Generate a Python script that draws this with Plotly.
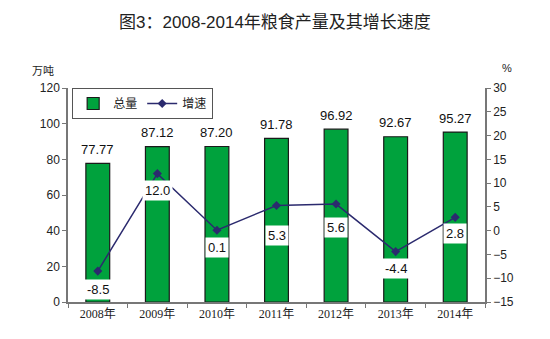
import plotly.graph_objects as go

years = ["2008年", "2009年", "2010年", "2011年", "2012年", "2013年", "2014年"]
output = [77.77, 87.12, 87.20, 91.78, 96.92, 92.67, 95.27]
growth = [-8.5, 12.0, 0.1, 5.3, 5.6, -4.4, 2.8]
label_shift = [-18, -17, -17, -30, -23, -17, -16]

fig = go.Figure()
fig.add_trace(go.Bar(
    x=years, y=output, name="总量", width=0.4,
    marker=dict(color="#00A23D", line=dict(color="#1a1a1a", width=1.2)),
))
fig.add_trace(go.Scatter(
    x=years, y=growth, name="增速", yaxis="y2", mode="lines+markers",
    line=dict(color="#2B2A6E", width=1.5),
    marker=dict(symbol="diamond", size=7, color="#2B2A6E"),
))

for x, v in zip(years, output):
    fig.add_annotation(
        x=x, y=v, xref="x", yref="y", text=f"{v:.2f}", showarrow=False,
        yshift=14, font=dict(size=13, color="#111", family="Arial, Liberation Sans"),
    )

for x, g, s in zip(years, growth, label_shift):
    fig.add_annotation(
        x=x, y=g, yref="y2", xref="x", text=f"{g:.1f}", showarrow=False,
        yshift=s, bgcolor="white", borderpad=2,
        font=dict(size=13, color="#111", family="Arial, Liberation Sans"),
    )

fig.add_annotation(text="万吨", x=-0.09, y=1.13, xref="paper", yref="paper", showarrow=False,
                   xanchor="left", font=dict(size=11, color="#222", family="Noto Sans CJK SC"))
fig.add_annotation(text="%", x=1.035, y=1.13, xref="paper", yref="paper", showarrow=False,
                   xanchor="left", font=dict(size=11, color="#222", family="Arial"))

fig.update_layout(
    width=550, height=339,
    margin=dict(l=68, r=65, t=88, b=37),
    paper_bgcolor="white", plot_bgcolor="white",
    title=dict(text="图3：2008-2014年粮食产量及其增长速度", x=0.5, xanchor="center",
               y=0.935, yanchor="middle",
               font=dict(size=17, color="#222", family="Arial, Noto Sans CJK SC")),
    showlegend=True,
    legend=dict(orientation="h", x=0.01, y=1.0, xanchor="left", yanchor="top",
                bgcolor="white", bordercolor="#555", borderwidth=1,
                font=dict(size=12, color="#222", family="Noto Sans CJK SC")),
    xaxis=dict(showline=True, linecolor="#777", linewidth=1.5, ticks="outside",
               tickson="boundaries", ticklen=4, tickcolor="#777",
               tickfont=dict(size=12, color="#222", family="Liberation Serif, Noto Sans CJK SC")),
    yaxis=dict(range=[0, 120], dtick=20, showgrid=False, zeroline=False, showline=True,
               linecolor="#777", linewidth=1.5, ticks="outside", ticklen=4, tickcolor="#777",
               tickfont=dict(size=12, color="#222", family="Arial, Liberation Sans")),
    yaxis2=dict(range=[-15, 30], dtick=5, overlaying="y", side="right", showgrid=False,
                zeroline=False, showline=True, linecolor="#777", linewidth=1.5,
                ticks="outside", ticklen=4, tickcolor="#777",
                tickfont=dict(size=12, color="#222", family="Arial, Liberation Sans")),
    bargap=0.6,
)
fig.write_html("out.html")
